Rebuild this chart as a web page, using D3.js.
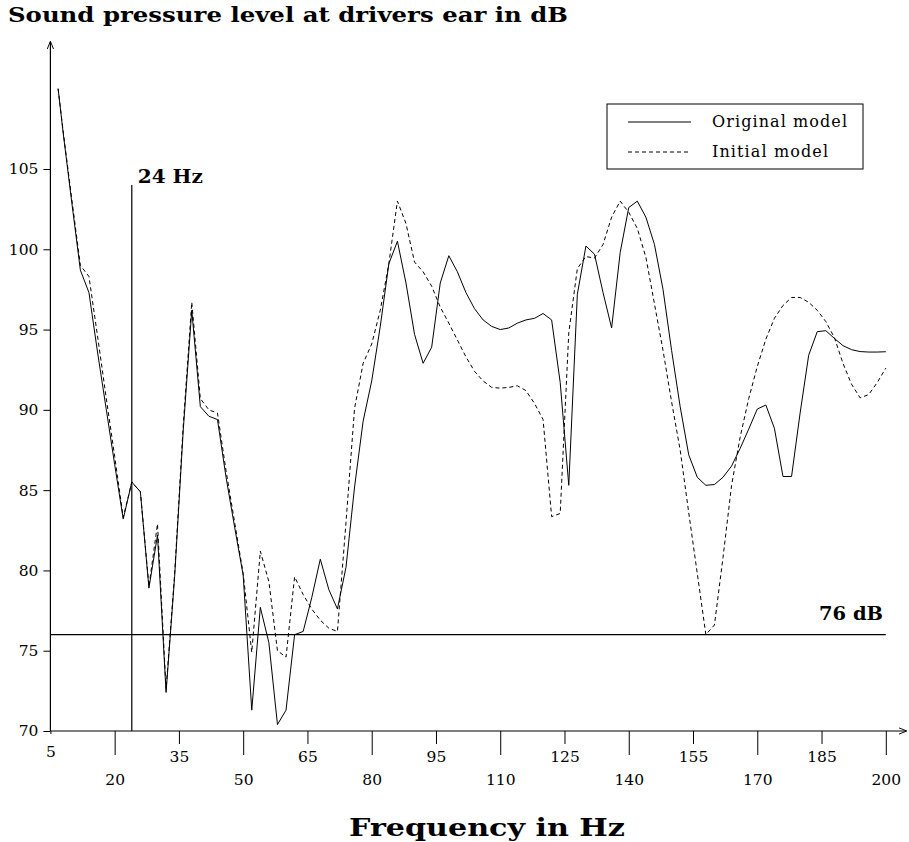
<!DOCTYPE html>
<html>
<head>
<meta charset="utf-8">
<script src="https://cdn.jsdelivr.net/npm/d3@7"></script>
<style>
    body { margin: 0; background: #fff; }
    svg { display: block; font-family: "DejaVu Serif", serif; }
    .tick text { font-family: "DejaVu Serif", serif; font-size: 15.5px; fill: #000; }
    .bold { font-weight: bold; }
</style>
</head>
<body>
<div id="holder"></div>
<script>
const freq = [6.8, 8, 10, 12, 14, 16, 18, 20, 22, 24, 26, 28, 30, 32, 34, 36, 38, 40, 42, 44,
    46, 48, 50, 52, 54, 56, 58, 60, 62, 64, 66, 68, 70, 72, 74, 76, 78, 80, 82, 84,
    86, 88, 90, 92, 94, 96, 98, 100, 102, 104, 106, 108, 110, 112, 114, 116, 118, 120, 122, 124,
    126, 128, 130, 132, 134, 136, 138, 140, 142, 144, 146, 148, 150, 152, 154, 156, 158, 160, 162, 164,
    166, 168, 170, 172, 174, 176, 178, 180, 182, 184, 186, 188, 190, 192, 194, 196, 198, 200];

const originalModel = [110.0, 107.2, 102.9, 98.7, 97.3, 93.6, 90.1, 86.6, 83.2, 85.5, 84.9, 78.9, 82.2, 72.4, 79.6, 88.7, 96.2, 90.2, 89.6, 89.4,
    85.8, 82.7, 79.7, 71.3, 77.7, 75.5, 70.4, 71.3, 76.0, 76.2, 78.3, 80.7, 78.8, 77.6, 80.2, 85.2, 89.3, 91.8, 95.2, 99.1,
    100.5, 97.9, 94.7, 92.9, 93.9, 97.9, 99.6, 98.6, 97.3, 96.3, 95.6, 95.2, 95.0, 95.1, 95.4, 95.6, 95.7, 96.0, 95.6, 91.7,
    85.3, 97.2, 100.2, 99.7, 97.3, 95.1, 99.8, 102.6, 103.0, 102.0, 100.3, 97.5, 93.7, 90.2, 87.2, 85.8, 85.3, 85.35, 85.8, 86.5,
    87.6, 88.8, 90.05, 90.3, 88.85, 85.85, 85.85, 89.8, 93.4, 94.87, 94.93, 94.45, 94.0, 93.75, 93.63, 93.6, 93.6, 93.62];

const initialModel = [110.0, 107.3, 103.1, 99.0, 98.3, 94.6, 90.8, 87.1, 83.3, 85.5, 84.9, 79.0, 82.9, 72.6, 79.8, 89.0, 96.7, 90.7, 90.0, 89.8,
    86.2, 83.0, 79.8, 74.9, 81.2, 79.3, 75.0, 74.6, 79.6, 78.5, 77.6, 76.9, 76.4, 76.2, 83.0, 90.1, 92.9, 94.1, 96.2, 99.1,
    103.0, 101.6, 99.2, 98.6, 97.7, 96.4, 95.4, 94.35, 93.3, 92.4, 91.8, 91.4, 91.35, 91.4, 91.5, 91.2, 90.4, 89.4, 83.35, 83.55,
    94.8, 98.8, 99.55, 99.45, 100.3, 102.0, 103.0, 102.3, 101.3, 99.5, 96.6, 93.7, 90.5, 87.5, 83.6, 79.8, 76.0, 76.6, 80.8, 85.3,
    88.3, 90.7, 92.7, 94.4, 95.7, 96.5, 97.0, 97.0, 96.7, 96.2, 95.5, 94.5, 92.9, 91.6, 90.75, 90.95, 91.7, 92.6];

const xTicks = [5, 20, 35, 50, 65, 80, 95, 110, 125, 140, 155, 170, 185, 200];
const yTicks = [70, 75, 80, 85, 90, 95, 100, 105];

const markerFreq = 24, markerTop = 104;
const limitDb = 76;

const w = 909, h = 842;
const plotLeft = 50.4, plotRight = 885.8, plotBottom = 731, plotTop = 169;

const svg = d3.select('#holder')
    .append('svg')
    .attr('width', w)
    .attr('height', h);

const xScale = d3.scaleLinear().domain([5, 200]).range([plotLeft, plotRight]);
const yScale = d3.scaleLinear().domain([70, 105]).range([plotBottom, plotTop]);

svg.append('defs').append('marker')
    .attr('id', 'arrow')
    .attr('viewBox', '0 0 10 10')
    .attr('refX', 9).attr('refY', 5)
    .attr('markerWidth', 8).attr('markerHeight', 8)
    .attr('markerUnits', 'userSpaceOnUse')
    .attr('orient', 'auto')
    .append('path')
    .attr('d', 'M0,1 L10,5 L0,9')
    .attr('fill', 'none')
    .attr('stroke', '#000')
    .attr('stroke-width', 1.2);

// y axis
const yAxis = d3.axisLeft(yScale)
    .tickValues(yTicks)
    .tickSize(7)
    .tickPadding(5)
    .tickFormat(d3.format('d'));

svg.append('g')
    .attr('id', 'y-axis')
    .attr('transform', `translate(${plotLeft},0)`)
    .call(yAxis)
    .call(g => g.select('.domain').remove());

// x axis, alternating tick lengths
const xAxis = d3.axisBottom(xScale)
    .tickValues(xTicks)
    .tickSizeOuter(0)
    .tickFormat(d3.format('d'));

svg.append('g')
    .attr('id', 'x-axis')
    .attr('transform', `translate(0,${plotBottom})`)
    .call(xAxis)
    .call(g => {
        g.select('.domain').remove();
        g.selectAll('.tick line')
            .attr('y2', (d, i) => i === 0 ? 3 : (i % 2 ? 24 : 13));
        g.selectAll('.tick text')
            .attr('dy', null)
            .attr('y', (d, i) => i === 0 ? 26 : (i % 2 ? 54 : 31));
    });

svg.selectAll('.tick line').attr('stroke', '#000');

// axis lines with arrows
svg.append('line')
    .attr('x1', plotLeft).attr('y1', plotBottom)
    .attr('x2', plotLeft).attr('y2', 42)
    .attr('stroke', '#000').attr('stroke-width', 1.2)
    .attr('marker-end', 'url(#arrow)');

svg.append('line')
    .attr('x1', plotLeft).attr('y1', plotBottom)
    .attr('x2', 906).attr('y2', plotBottom)
    .attr('stroke', '#000').attr('stroke-width', 1.2)
    .attr('marker-end', 'url(#arrow)');

// reference lines
svg.append('line')
    .attr('x1', xScale(markerFreq)).attr('y1', yScale(70))
    .attr('x2', xScale(markerFreq)).attr('y2', yScale(markerTop))
    .attr('stroke', '#000').attr('stroke-width', 1.2);

svg.append('text')
    .attr('class', 'bold')
    .attr('x', xScale(markerFreq) + 6)
    .attr('y', yScale(markerTop) - 2)
    .attr('textLength', 65)
    .attr('lengthAdjust', 'spacingAndGlyphs')
    .style('font-size', '18px')
    .text('24 Hz');

svg.append('line')
    .attr('x1', xScale(5)).attr('y1', yScale(limitDb))
    .attr('x2', xScale(200)).attr('y2', yScale(limitDb))
    .attr('stroke', '#000').attr('stroke-width', 1.2);

svg.append('text')
    .attr('class', 'bold')
    .attr('x', 819)
    .attr('y', yScale(limitDb) - 15)
    .attr('textLength', 64)
    .attr('lengthAdjust', 'spacingAndGlyphs')
    .style('font-size', '18px')
    .text('76 dB');

// curves
const line = d3.line()
    .x((d, i) => xScale(freq[i]))
    .y(d => yScale(d));

svg.append('path')
    .datum(initialModel)
    .attr('d', line)
    .attr('fill', 'none')
    .attr('stroke', '#000')
    .attr('stroke-width', 1)
    .attr('stroke-dasharray', '4,3');

svg.append('path')
    .datum(originalModel)
    .attr('d', line)
    .attr('fill', 'none')
    .attr('stroke', '#000')
    .attr('stroke-width', 1);

// legend
svg.append('g')
    .attr('id', 'legend')
    .attr('transform', 'translate(607,104)')
    .call(g => {
        g.append('rect')
            .attr('width', 256).attr('height', 65)
            .attr('fill', '#fff')
            .attr('stroke', '#000');
        const items = [['Original model', null, 135], ['Initial model', '4,3', 116]];
        items.forEach(([label, dash, len], i) => {
            const y = 18 + i * 30;
            g.append('line')
                .attr('x1', 21).attr('x2', 84)
                .attr('y1', y).attr('y2', y)
                .attr('stroke', '#000')
                .attr('stroke-dasharray', dash);
            g.append('text')
                .attr('x', 105).attr('y', y + 5)
                .attr('textLength', len)
                .attr('lengthAdjust', 'spacing')
                .style('font-size', '16px')
                .text(label);
        });
    });

// titles
svg.append('text')
    .attr('class', 'bold')
    .attr('x', 8).attr('y', 22)
    .attr('textLength', 560)
    .attr('lengthAdjust', 'spacingAndGlyphs')
    .style('font-size', '21px')
    .text('Sound pressure level at drivers ear in dB');

svg.append('text')
    .attr('class', 'bold')
    .attr('x', 349).attr('y', 836)
    .attr('textLength', 276)
    .attr('lengthAdjust', 'spacingAndGlyphs')
    .style('font-size', '24px')
    .text('Frequency in Hz');
</script>
</body>
</html>
